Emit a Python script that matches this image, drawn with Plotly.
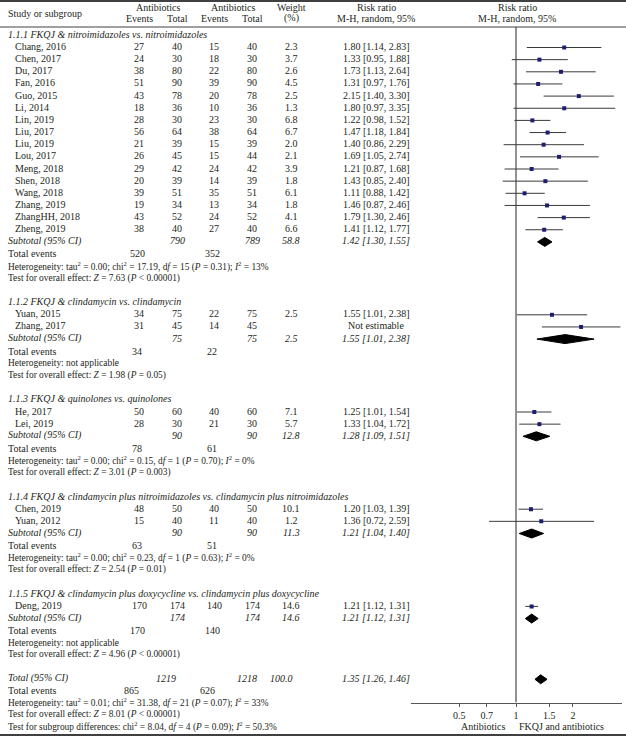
import numpy as np
import plotly.graph_objects as go

# --- données ---
groupes = [
    "1.1.1 FKQJ &amp; nitroimidazoles vs. nitroimidazoles",
    "1.1.2 FKQJ &amp; clindamycin vs. clindamycin",
    "1.1.3 FKQJ &amp; quinolones vs. quinolones",
    "1.1.4 FKQJ &amp; clindamycin plus nitroimidazoles vs. clindamycin plus nitroimidazoles",
    "1.1.5 FKQJ &amp; clindamycin plus doxycycline vs. clindamycin plus doxycycline",
]

etudes = ["Chang, 2016", "Chen, 2017", "Du, 2017", "Fan, 2016", "Guo, 2015", "Li, 2014",
          "Lin, 2019", "Liu, 2017", "Liu, 2019", "Lou, 2017", "Meng, 2018", "Shen, 2018",
          "Wang, 2018", "Zhang, 2019", "ZhangHH, 2018", "Zheng, 2019",
          "Yuan, 2015", "Zhang, 2017",
          "He, 2017", "Lei, 2019",
          "Chen, 2019", "Yuan, 2012",
          "Deng, 2019"]
groupe_etude = [0] * 16 + [1] * 2 + [2] * 2 + [3] * 2 + [4]
ev_fkqj = [27, 24, 38, 51, 43, 18, 28, 56, 21, 26, 29, 20, 39, 19, 43, 38, 34, 31, 50, 28, 48, 15, 170]
tot_fkqj = [40, 30, 80, 90, 78, 36, 30, 64, 39, 45, 42, 39, 51, 34, 52, 40, 75, 45, 60, 30, 50, 40, 174]
ev_ctrl = [15, 18, 22, 39, 20, 10, 23, 38, 15, 15, 24, 14, 35, 13, 24, 27, 22, 14, 40, 21, 40, 11, 140]
tot_ctrl = [40, 30, 80, 90, 78, 36, 30, 64, 39, 44, 42, 39, 51, 34, 52, 40, 75, 45, 60, 30, 50, 40, 174]
poids = [2.3, 3.7, 2.6, 4.5, 2.5, 1.3, 6.8, 6.7, 2.0, 2.1, 3.9, 1.8, 6.1, 1.8, 4.1, 6.6,
         2.5, None, 7.1, 5.7, 10.1, 1.2, 14.6]
rr = [1.80, 1.33, 1.73, 1.31, 2.15, 1.80, 1.22, 1.47, 1.40, 1.69, 1.21, 1.43, 1.11, 1.46, 1.79, 1.41,
      1.55, 2.21, 1.25, 1.33, 1.20, 1.36, 1.21]
rr_bas = [1.14, 0.95, 1.13, 0.97, 1.40, 0.97, 0.98, 1.18, 0.86, 1.05, 0.87, 0.85, 0.88, 0.87, 1.30, 1.12,
          1.01, 1.37, 1.01, 1.04, 1.03, 0.72, 1.12]
rr_haut = [2.83, 1.88, 2.64, 1.76, 3.30, 3.35, 1.52, 1.84, 2.29, 2.74, 1.68, 2.40, 1.42, 2.46, 2.46, 1.77,
           2.38, 3.57, 1.54, 1.72, 1.39, 2.59, 1.31]
estimable = [True] * 17 + [False] + [True] * 5

# sous-totaux
sub_tot_fkqj = [790, 75, 90, 90, 174]
sub_tot_ctrl = [789, 75, 90, 90, 174]
sub_poids = [58.8, 2.5, 12.8, 11.3, 14.6]
sub_rr = [1.42, 1.55, 1.28, 1.21, 1.21]
sub_bas = [1.30, 1.01, 1.09, 1.04, 1.12]
sub_haut = [1.55, 2.38, 1.51, 1.40, 1.31]
# losanges tels que dessinés (celui du 1.1.2 ne suit pas son texte)
losange_rr = [1.42, 1.82, 1.28, 1.21, 1.21]
losange_bas = [1.30, 1.29, 1.09, 1.04, 1.12]
losange_haut = [1.55, 2.59, 1.51, 1.40, 1.31]
sub_ev_fkqj = [520, 34, 78, 63, 170]
sub_ev_ctrl = [352, 22, 61, 51, 140]
sub_hetero = [
    "tau<sup>2</sup> = 0.00; chi<sup>2</sup> = 17.19, d<i>f</i> = 15 (<i>P</i> = 0.31); <i>I</i><sup>2</sup> = 13%",
    "not applicable",
    "tau<sup>2</sup> = 0.00; chi<sup>2</sup> = 0.15, d<i>f</i> = 1 (<i>P</i> = 0.70); <i>I</i><sup>2</sup> = 0%",
    "tau<sup>2</sup> = 0.00; chi<sup>2</sup> = 0.23, d<i>f</i> = 1 (<i>P</i> = 0.63); <i>I</i><sup>2</sup> = 0%",
    "not applicable",
]
sub_z = ["7.63", "1.98", "3.01", "2.54", "4.96"]
sub_p = ["&lt; 0.00001", "= 0.05", "= 0.003", "= 0.01", "&lt; 0.00001"]

# total général
total_fkqj, total_ctrl, total_poids = 1219, 1218, 100.0
total_rr, total_bas, total_haut = 1.35, 1.26, 1.46
total_ev_fkqj, total_ev_ctrl = 865, 626
total_hetero = ("tau<sup>2</sup> = 0.01; chi<sup>2</sup> = 31.38, d<i>f</i> = 21 (<i>P</i> = 0.07); "
                "<i>I</i><sup>2</sup> = 33%")
total_z, total_p = "8.01", "&lt; 0.00001"
diff_sousgroupes = ("chi<sup>2</sup> = 8.04, d<i>f</i> = 4 (<i>P</i> = 0.09); "
                    "<i>I</i><sup>2</sup> = 50.3%")

graduations = [0.5, 0.7, 1, 1.5, 2]

# --- mise en page (pixels de la fenêtre) ---
W, H = 626, 739
POLICE = "Liberation Serif"
TAILLE = 10
TAILLE_STATS = 9.4   # lignes de statistiques, plus serrées sur l'original
NOIR = "#231f20"
X_NOM, X_ETUDE = 6, 13
X_EV1, X_TOT1, X_EV2, X_TOT2, X_POIDS, X_RR = 139, 177, 214, 252, 291, 376
PAS = 12.15          # hauteur d'une ligne du tableau
Y0 = 46.5            # première étude
Y_AXE = 702.5


def texte(fig, x, y, t, ancre="center", italique=False, taille=TAILLE):
    fig.add_annotation(x=x, y=y, xref="x", yref="y", text=t, showarrow=False,
                       xanchor=ancre, yanchor="middle",
                       font=dict(family=POLICE, size=taille, color=NOIR,
                                 style="italic" if italique else "normal"))


def stat(fig, y, t):
    texte(fig, X_NOM, y, t, "left", taille=TAILLE_STATS)


def etiquette_rr(r, b, h):
    return f"{r:.2f} [{b:.2f}, {h:.2f}]"


def main():
    fig = go.Figure()

    # en-tête
    texte(fig, X_NOM, 13, "Study or subgroup", "left")
    texte(fig, (X_EV1 + X_TOT1) / 2, 7, "Antibiotics")
    texte(fig, (X_EV2 + X_TOT2) / 2, 7, "Antibiotics")
    for x in (X_EV1, X_EV2):
        texte(fig, x, 18, "Events")
    for x in (X_TOT1, X_TOT2):
        texte(fig, x, 18, "Total")
    texte(fig, X_POIDS, 7, "Weight")
    texte(fig, X_POIDS, 18, "(%)")
    texte(fig, X_RR, 7, "Risk ratio")
    texte(fig, X_RR, 18, "M-H, random, 95%")
    texte(fig, 517, 7, "Risk ratio")
    texte(fig, 517, 18, "M-H, random, 95%")

    ci_x, ci_y, pt_x, pt_y = [], [], [], []
    losanges = []
    ligne = -1
    for g, titre in enumerate(groupes):
        texte(fig, X_NOM, Y0 + ligne * PAS, titre, "left", italique=True)
        ligne += 1
        for i in [k for k, gg in enumerate(groupe_etude) if gg == g]:
            y = Y0 + ligne * PAS
            texte(fig, X_ETUDE, y, etudes[i], "left")
            texte(fig, X_EV1, y, str(ev_fkqj[i]))
            texte(fig, X_TOT1, y, str(tot_fkqj[i]))
            texte(fig, X_EV2, y, str(ev_ctrl[i]))
            texte(fig, X_TOT2, y, str(tot_ctrl[i]))
            if poids[i] is not None:
                texte(fig, X_POIDS, y, f"{poids[i]:.1f}")
            texte(fig, X_RR, y, etiquette_rr(rr[i], rr_bas[i], rr_haut[i])
                  if estimable[i] else "Not estimable")
            ci_x += [rr_bas[i], rr_haut[i], None]
            ci_y += [y + 1, y + 1, None]
            pt_x.append(rr[i])
            pt_y.append(y + 1)
            ligne += 1
        y = Y0 + ligne * PAS
        texte(fig, X_NOM, y, "Subtotal (95% CI)", "left", italique=True)
        texte(fig, X_TOT1, y, str(sub_tot_fkqj[g]), italique=True)
        texte(fig, X_TOT2, y, str(sub_tot_ctrl[g]), italique=True)
        texte(fig, X_POIDS, y, f"{sub_poids[g]:.1f}", italique=True)
        texte(fig, X_RR, y, etiquette_rr(sub_rr[g], sub_bas[g], sub_haut[g]), italique=True)
        losanges.append((losange_bas[g], losange_rr[g], losange_haut[g], y + 1))
        y += PAS + 0.8
        texte(fig, X_NOM, y, "Total events", "left")
        texte(fig, X_EV1 - 2, y, str(sub_ev_fkqj[g]))
        texte(fig, X_EV2 - 2, y, str(sub_ev_ctrl[g]))
        y += PAS
        stat(fig, y, "Heterogeneity: " + sub_hetero[g])
        y += PAS
        stat(fig, y, f"Test for overall effect: <i>Z</i> = {sub_z[g]} (<i>P</i> {sub_p[g]})")
        ligne += 5   # sous-total, 3 lignes de stats, ligne vide

    # total général
    y = Y0 + ligne * PAS
    texte(fig, X_NOM, y, "Total (95% CI)", "left", italique=True)
    texte(fig, 166, y, str(total_fkqj), italique=True)
    texte(fig, 247, y, str(total_ctrl), italique=True)
    texte(fig, 281, y, f"{total_poids:.1f}", italique=True)
    texte(fig, X_RR, y, etiquette_rr(total_rr, total_bas, total_haut), italique=True)
    losanges.append((total_bas, total_rr, total_haut, y + 1))
    y += PAS
    texte(fig, X_NOM, y, "Total events", "left")
    texte(fig, 131, y, str(total_ev_fkqj))
    texte(fig, 207, y, str(total_ev_ctrl))
    y += PAS
    stat(fig, y, "Heterogeneity: " + total_hetero)
    y += PAS
    stat(fig, y, f"Test for overall effect: <i>Z</i> = {total_z} (<i>P</i> {total_p})")
    y += PAS
    stat(fig, y, "Test for subgroup differences: " + diff_sousgroupes)

    # libellés sous l'axe
    texte(fig, 483, y, "Antibiotics")
    texte(fig, 561, y, "FKQJ and antibiotics")

    # ligne verticale à 1
    fig.add_trace(go.Scatter(x=[1, 1], y=[27, Y_AXE], mode="lines", xaxis="x2", yaxis="y2",
                             line=dict(color="#6d6e71", width=1.5), hoverinfo="skip"))
    # intervalles de confiance
    fig.add_trace(go.Scatter(x=ci_x, y=ci_y, mode="lines", xaxis="x2", yaxis="y2",
                             line=dict(color="#3a3a3a", width=1), hoverinfo="skip"))
    # estimations ponctuelles
    fig.add_trace(go.Scatter(x=pt_x, y=pt_y, mode="markers", xaxis="x2", yaxis="y2",
                             marker=dict(symbol="square", size=4, color="#1e1e6e"),
                             hoverinfo="skip"))
    # losanges
    for b, m, h, yy in losanges:
        fig.add_trace(go.Scatter(x=[b, m, h, m, b], y=[yy, yy - 4.5, yy, yy + 4.5, yy],
                                 mode="lines", fill="toself", fillcolor="black",
                                 line=dict(color="black", width=1), xaxis="x2", yaxis="y2",
                                 hoverinfo="skip"))

    # filets horizontaux
    for yy, ep in ((1, 2), (27, 1), (735, 2)):
        fig.add_shape(type="line", xref="paper", yref="y", x0=0, x1=1, y0=yy, y1=yy,
                      line=dict(color="#404040", width=ep))

    fig.update_layout(
        width=W, height=H,
        margin=dict(l=0, r=0, t=0, b=0),
        paper_bgcolor="white", plot_bgcolor="white",
        showlegend=False,
        xaxis=dict(range=[0, W], domain=[0, 1], visible=False),
        yaxis=dict(range=[H, 0], domain=[0, 1], visible=False),
        xaxis2=dict(type="log", range=[np.log10(0.278), np.log10(3.64)],
                    domain=[411 / W, 622 / W], anchor="y2",
                    showline=True, linecolor="#555555", linewidth=1,
                    ticks="outside", ticklen=3, tickcolor="#555555",
                    tickvals=graduations, ticktext=[str(v) for v in graduations],
                    tickfont=dict(family=POLICE, size=TAILLE, color=NOIR),
                    showgrid=False, zeroline=False),
        yaxis2=dict(range=[Y_AXE, 0], domain=[(H - Y_AXE) / H, 1], anchor="x2",
                    visible=False),
    )
    # la page par défaut garde la marge de 8 px du navigateur : on l'annule
    fig.write_html("out.html", config={"displayModeBar": False},
                   post_script="document.body.style.margin = '0';")


if __name__ == "__main__":
    main()
